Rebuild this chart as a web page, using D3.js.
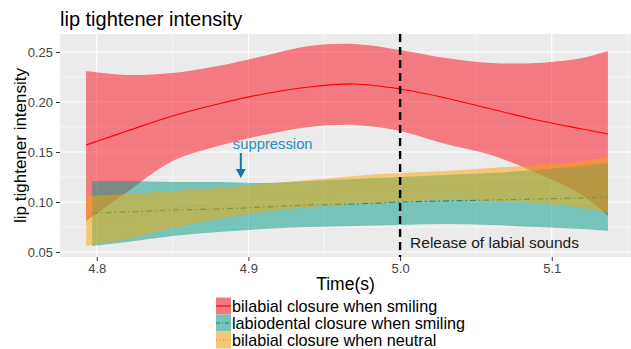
<!DOCTYPE html>
<html><head><meta charset="utf-8">
<script src="https://cdn.jsdelivr.net/npm/d3@7"></script>
<style>body{margin:0;background:#fff;}svg{display:block;font-family:"Liberation Sans",Arial,sans-serif;}</style>
</head><body>
<svg id="chart" width="631" height="349"></svg>
<script>
const times = [4.793, 4.82, 4.85, 4.88, 4.91, 4.94, 4.97, 5.00, 5.03, 5.06, 5.09, 5.12, 5.137];
const labioTimes = [4.797, 4.82, 4.85, 4.88, 4.91, 4.94, 4.97, 5.00, 5.03, 5.06, 5.09, 5.12, 5.137];

const bilabialSmileFit = [0.157,0.171,0.186,0.198,0.208,0.215,0.218,0.213,0.204,0.193,0.182,0.173,0.168];
const bilabialSmileLo  = [0.081,0.110,0.141,0.156,0.167,0.175,0.177,0.171,0.158,0.147,0.129,0.107,0.086];
const bilabialSmileHi  = [0.231,0.227,0.229,0.236,0.246,0.256,0.258,0.252,0.244,0.239,0.239,0.244,0.251];

const labioSmileFit = [0.089,0.090,0.092,0.093,0.095,0.097,0.098,0.100,0.101,0.102,0.103,0.104,0.105];
const labioSmileLo  = [0.056,0.060,0.066,0.070,0.073,0.075,0.076,0.077,0.078,0.077,0.075,0.073,0.071];
const labioSmileHi  = [0.121,0.121,0.120,0.120,0.119,0.121,0.123,0.125,0.127,0.129,0.132,0.136,0.139];

const bilabialNeutralFit = [0.081,0.086,0.093,0.099,0.104,0.109,0.112,0.115,0.117,0.118,0.118,0.118,0.117];
const bilabialNeutralLo  = [0.056,0.063,0.074,0.083,0.090,0.095,0.098,0.100,0.102,0.101,0.099,0.094,0.089];
const bilabialNeutralHi  = [0.106,0.108,0.111,0.114,0.118,0.122,0.126,0.129,0.131,0.134,0.137,0.141,0.145];

const xTicks = [4.8, 4.9, 5.0, 5.1];
const yTicks = [0.05, 0.10, 0.15, 0.20, 0.25];
const releaseTime = 5.0;
const seriesNames = ["bilabial closure when smiling", "labiodental closure when smiling", "bilabial closure when neutral"];

const svg = d3.select("#chart");
const P = {left: 60, right: 634, top: 34, bottom: 257};
const x = d3.scaleLinear().domain([4.7758, 5.1542]).range([P.left, P.right]);
const y = d3.scaleLinear().domain([0.045, 0.268]).range([P.bottom, P.top]);

svg.append("defs").append("clipPath").attr("id","clip")
  .append("rect").attr("x",P.left).attr("y",P.top).attr("width",P.right-P.left).attr("height",P.bottom-P.top);

svg.append("rect").attr("x",P.left).attr("y",P.top).attr("width",P.right-P.left).attr("height",P.bottom-P.top).attr("fill","#EBEBEB");

const grid = svg.append("g").attr("clip-path","url(#clip)");
const minorX = [4.75, 4.85, 4.95, 5.05, 5.15];
const minorY = [0.075, 0.125, 0.175, 0.225];
grid.selectAll(".mx").data(minorX).join("line").attr("x1",d=>x(d)).attr("x2",d=>x(d)).attr("y1",P.top).attr("y2",P.bottom).attr("stroke","#fff").attr("stroke-width",0.6);
grid.selectAll(".my").data(minorY).join("line").attr("y1",d=>y(d)).attr("y2",d=>y(d)).attr("x1",P.left).attr("x2",P.right).attr("stroke","#fff").attr("stroke-width",0.6);
grid.selectAll(".gx").data(xTicks).join("line").attr("x1",d=>x(d)).attr("x2",d=>x(d)).attr("y1",P.top).attr("y2",P.bottom).attr("stroke","#fff").attr("stroke-width",1.1);
grid.selectAll(".gy").data(yTicks).join("line").attr("y1",d=>y(d)).attr("y2",d=>y(d)).attr("x1",P.left).attr("x2",P.right).attr("stroke","#fff").attr("stroke-width",1.1);

const plot = svg.append("g").attr("clip-path","url(#clip)");
const curve = d3.curveCatmullRom.alpha(0.5);
function band(ts, lo, hi){ return d3.area().curve(curve).x((d,i)=>x(ts[i])).y0((d,i)=>y(lo[i])).y1((d,i)=>y(hi[i]))(ts); }
function line(ts, v){ return d3.line().curve(curve).x((d,i)=>x(ts[i])).y((d,i)=>y(v[i]))(ts); }

plot.append("path").attr("d",band(times,bilabialSmileLo,bilabialSmileHi)).attr("fill","rgb(250,10,22)").attr("fill-opacity",0.5);
plot.append("path").attr("d",band(labioTimes,labioSmileLo,labioSmileHi)).attr("fill","rgb(0,155,135)").attr("fill-opacity",0.5);
plot.append("path").attr("d",line(labioTimes,labioSmileFit)).attr("fill","none").attr("stroke","#0b8a72").attr("stroke-width",1.2).attr("stroke-dasharray","6,3,1.5,3");
plot.append("path").attr("d",band(times,bilabialNeutralLo,bilabialNeutralHi)).attr("fill","rgb(245,165,5)").attr("fill-opacity",0.5);
plot.append("path").attr("d",line(times,bilabialNeutralFit)).attr("fill","none").attr("stroke","#e39400").attr("stroke-width",1).attr("stroke-dasharray","1,3").attr("stroke-opacity",0.45);
plot.append("path").attr("d",line(times,bilabialSmileFit)).attr("fill","none").attr("stroke","#ff0000").attr("stroke-width",1.2);

svg.append("line").attr("x1",x(releaseTime)).attr("x2",x(releaseTime)).attr("y1",P.top).attr("y2",P.bottom)
  .attr("stroke","#000").attr("stroke-width",2.4).attr("stroke-dasharray","8,5");
svg.append("text").attr("x",x(releaseTime)+10).attr("y",y(0.05)-4).attr("font-size",15.5).attr("fill","#1a1a1a").text("Release of labial sounds");

const annX = x(4.895);
svg.append("text").attr("x",annX-8).attr("y",y(0.153)).attr("font-size",14.8).attr("fill","#2a8fbf").text("suppression");
svg.append("line").attr("x1",annX).attr("x2",annX).attr("y1",y(0.149)).attr("y2",y(0.132)).attr("stroke","#1278a6").attr("stroke-width",2);
svg.append("path").attr("d",`M${annX-5},${y(0.133)} L${annX+5},${y(0.133)} L${annX},${y(0.124)} Z`).attr("fill","#1278a6");

const xAxis = svg.append("g").attr("transform",`translate(0,${P.bottom})`)
  .call(d3.axisBottom(x).tickValues(xTicks).tickFormat(d3.format(".1f")).tickSize(4).tickPadding(3));
const yAxis = svg.append("g").attr("transform",`translate(${P.left},0)`)
  .call(d3.axisLeft(y).tickValues(yTicks).tickFormat(d3.format(".2f")).tickSize(4).tickPadding(3));
[xAxis,yAxis].forEach(a=>{
  a.select(".domain").remove();
  a.selectAll(".tick line").attr("stroke","#333").attr("stroke-width",1);
  a.selectAll(".tick text").attr("fill","#444").attr("font-size",13).attr("font-family","Liberation Sans, Arial, sans-serif");
});

svg.append("text").attr("x",60).attr("y",26).attr("font-size",20).attr("fill","#000").text("lip tightener intensity");
svg.append("text").attr("x",(P.left+631)/2).attr("y",290).attr("text-anchor","middle").attr("font-size",17.5).attr("fill","#000").text("Time(s)");
svg.append("text").attr("transform",`translate(26,${(P.top+P.bottom)/2}) rotate(-90)`).attr("text-anchor","middle").attr("font-size",17).attr("fill","#000").text("lip tightener intensity");

const legFill = ["rgb(242,122,127)","rgb(117,195,185)","rgb(240,200,120)"];
const legLine = ["#ff0000","#0b8a72","#e39400"];
const legDash = [null,"4,2,1,2","1,2.5"];
const lg = svg.append("g");
seriesNames.forEach((name,i)=>{
  const cy = 306 + i*17;
  lg.append("rect").attr("x",216).attr("y",cy-8.5).attr("width",15).attr("height",17).attr("fill",legFill[i]);
  lg.append("line").attr("x1",216).attr("x2",231).attr("y1",cy).attr("y2",cy).attr("stroke",legLine[i]).attr("stroke-width",1.2).attr("stroke-dasharray",legDash[i]);
  lg.append("text").attr("x",232).attr("y",cy+5.5).attr("font-size",16.2).attr("fill","#000").text(name);
});
</script>
</body></html>
